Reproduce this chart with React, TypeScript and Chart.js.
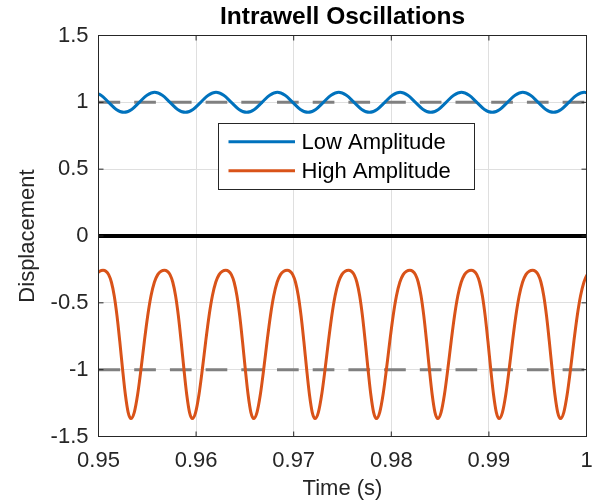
import React, { useEffect, useRef } from "react";
import { Chart, registerables } from "chart.js";

Chart.register(...registerables);

const chartTitle = "Intrawell Oscillations";
const xLabel = "Time (s)";
const yLabel = "Displacement";
const seriesNames = ["Low Amplitude", "High Amplitude"];

const xTicks = [0.95, 0.96, 0.97, 0.98, 0.99, 1.0];
const xTickLabels = ["0.95", "0.96", "0.97", "0.98", "0.99", "1"];
const yTicks = [-1.5, -1, -0.5, 0, 0.5, 1, 1.5];
const yTickLabels = ["-1.5", "-1", "-0.5", "0", "0.5", "1", "1.5"];
const xRange = [0.95, 1.0];
const yRange = [-1.5, 1.5];

const wellCenters = [1, -1];
const baselineValue = 0;

const lowTime = [
  0.949467, 0.950253, 0.951039, 0.951825, 0.95261, 0.953396, 0.954182, 0.954968,
  0.955754, 0.95654, 0.957326, 0.958111, 0.958897, 0.959683, 0.960469, 0.961255,
  0.962041, 0.962827, 0.963613, 0.964398, 0.965184, 0.96597, 0.966756, 0.967542,
  0.968328, 0.969114, 0.9699, 0.970685, 0.971471, 0.972257, 0.973043, 0.973829,
  0.974615, 0.975401, 0.976187, 0.976972, 0.977758, 0.978544, 0.97933, 0.980116,
  0.980902, 0.981688, 0.982474, 0.983259, 0.984045, 0.984831, 0.985617, 0.986403,
  0.987189, 0.987975, 0.988761, 0.989546, 0.990332, 0.991118, 0.991904, 0.99269,
  0.993476, 0.994262, 0.995048, 0.995833, 0.996619, 0.997405, 0.998191, 0.998977,
  0.999763, 1.000549,
];
const lowDisp = [
  1.075, 1.053, 1.0, 0.947, 0.925, 0.947, 1.0, 1.053,
  1.075, 1.053, 1.0, 0.947, 0.925, 0.947, 1.0, 1.053,
  1.075, 1.053, 1.0, 0.947, 0.925, 0.947, 1.0, 1.053,
  1.075, 1.053, 1.0, 0.947, 0.925, 0.947, 1.0, 1.053,
  1.075, 1.053, 1.0, 0.947, 0.925, 0.947, 1.0, 1.053,
  1.075, 1.053, 1.0, 0.947, 0.925, 0.947, 1.0, 1.053,
  1.075, 1.053, 1.0, 0.947, 0.925, 0.947, 1.0, 1.053,
  1.075, 1.053, 1.0, 0.947, 0.925, 0.947, 1.0, 1.053,
  1.075, 1.053,
];

const highTime = [
  0.949438, 0.949782, 0.950125, 0.950468, 0.950754, 0.951039, 0.951325, 0.95161,
  0.951896, 0.952181, 0.952467, 0.952752, 0.953038,
  0.953323, 0.953666, 0.954009, 0.954353, 0.954696, 0.955039, 0.955382, 0.955725, 0.956069, 0.956412,
  0.956755, 0.957041, 0.957326, 0.957612, 0.957897, 0.958183, 0.958468, 0.958754, 0.959039, 0.959325,
  0.95961, 0.959953, 0.960296, 0.96064, 0.960983, 0.961326, 0.961669, 0.962012, 0.962356, 0.962699,
  0.963042, 0.963328, 0.963613, 0.963899, 0.964184, 0.96447, 0.964755, 0.965041, 0.965326, 0.965612,
  0.965897, 0.96624, 0.966583, 0.966927, 0.96727, 0.967613, 0.967956, 0.968299, 0.968643, 0.968986,
  0.969329, 0.969615, 0.9699, 0.970186, 0.970471, 0.970757, 0.971042, 0.971328, 0.971613, 0.971899,
  0.972184, 0.972527, 0.97287, 0.973214, 0.973557, 0.9739, 0.974243, 0.974586, 0.97493, 0.975273,
  0.975616, 0.975902, 0.976187, 0.976473, 0.976758, 0.977044, 0.977329, 0.977615, 0.9779, 0.978186,
  0.978471, 0.978814, 0.979157, 0.979501, 0.979844, 0.980187, 0.98053, 0.980873, 0.981217, 0.98156,
  0.981903, 0.982189, 0.982474, 0.98276, 0.983045, 0.983331, 0.983616, 0.983902, 0.984187, 0.984473,
  0.984758, 0.985101, 0.985444, 0.985788, 0.986131, 0.986474, 0.986817, 0.98716, 0.987504, 0.987847,
  0.98819, 0.988476, 0.988761, 0.989047, 0.989332, 0.989618, 0.989903, 0.990189, 0.990474, 0.99076,
  0.991045, 0.991388, 0.991731, 0.992075, 0.992418, 0.992761, 0.993104, 0.993447, 0.993791, 0.994134,
  0.994477, 0.994763, 0.995048, 0.995334, 0.995619, 0.995905, 0.99619, 0.996476, 0.996761, 0.997047,
  0.997332, 0.997675, 0.998018, 0.998362, 0.998705, 0.999048, 0.999391, 0.999734, 1.000078, 1.000421,
];
const highDisp = [
  -0.346, -0.289, -0.264, -0.257, -0.264, -0.289, -0.346, -0.447,
  -0.598, -0.789, -0.997, -1.186, -1.319,
  -1.366, -1.319, -1.186, -0.997, -0.789, -0.598, -0.447, -0.346, -0.289, -0.264,
  -0.257, -0.264, -0.289, -0.346, -0.447, -0.598, -0.789, -0.997, -1.186, -1.319,
  -1.366, -1.319, -1.186, -0.997, -0.789, -0.598, -0.447, -0.346, -0.289, -0.264,
  -0.257, -0.264, -0.289, -0.346, -0.447, -0.598, -0.789, -0.997, -1.186, -1.319,
  -1.366, -1.319, -1.186, -0.997, -0.789, -0.598, -0.447, -0.346, -0.289, -0.264,
  -0.257, -0.264, -0.289, -0.346, -0.447, -0.598, -0.789, -0.997, -1.186, -1.319,
  -1.366, -1.319, -1.186, -0.997, -0.789, -0.598, -0.447, -0.346, -0.289, -0.264,
  -0.257, -0.264, -0.289, -0.346, -0.447, -0.598, -0.789, -0.997, -1.186, -1.319,
  -1.366, -1.319, -1.186, -0.997, -0.789, -0.598, -0.447, -0.346, -0.289, -0.264,
  -0.257, -0.264, -0.289, -0.346, -0.447, -0.598, -0.789, -0.997, -1.186, -1.319,
  -1.366, -1.319, -1.186, -0.997, -0.789, -0.598, -0.447, -0.346, -0.289, -0.264,
  -0.257, -0.264, -0.289, -0.346, -0.447, -0.598, -0.789, -0.997, -1.186, -1.319,
  -1.366, -1.319, -1.186, -0.997, -0.789, -0.598, -0.447, -0.346, -0.289, -0.264,
  -0.257, -0.264, -0.289, -0.346, -0.447, -0.598, -0.789, -0.997, -1.186, -1.319,
  -1.366, -1.319, -1.186, -0.997, -0.789, -0.598, -0.447, -0.346, -0.289, -0.264,
];

const FONT = "'Liberation Sans', Arial, Helvetica, sans-serif";
const AXIS_COLOR = "#262626";

const boxPlugin = {
  id: "matlabBox",
  afterDatasetsDraw(chart: any) {
    const { ctx, chartArea, scales } = chart;
    const { left, right, top, bottom } = chartArea;
    const xs = scales.x;
    const ys = scales.y;
    ctx.save();
    ctx.strokeStyle = AXIS_COLOR;
    ctx.lineWidth = 1;
    const tl = 5;
    ctx.beginPath();
    xTicks.forEach((v) => {
      const px = xs.getPixelForValue(v);
      ctx.moveTo(px, bottom);
      ctx.lineTo(px, bottom - tl);
      ctx.moveTo(px, top);
      ctx.lineTo(px, top + tl);
    });
    yTicks.forEach((v) => {
      const py = ys.getPixelForValue(v);
      ctx.moveTo(left, py);
      ctx.lineTo(left + tl, py);
      ctx.moveTo(right, py);
      ctx.lineTo(right - tl, py);
    });
    ctx.stroke();
    ctx.strokeRect(left, top, right - left, bottom - top);

    // title centred over the axes
    ctx.fillStyle = "#000000";
    ctx.font = `bold 24.5px ${FONT}`;
    ctx.textAlign = "center";
    ctx.textBaseline = "middle";
    ctx.fillText(chartTitle, (left + right) / 2, top - 18);

    // legend
    const lx = left + 120;
    const ly = top + 88;
    const lw = 256;
    const lh = 66;
    ctx.fillStyle = "#ffffff";
    ctx.fillRect(lx, ly, lw, lh);
    ctx.strokeStyle = AXIS_COLOR;
    ctx.lineWidth = 1;
    ctx.strokeRect(lx, ly, lw, lh);
    const ds = chart.data.datasets;
    [0, 1].forEach((i) => {
      const yy = ly + 18.2 + i * 29;
      ctx.strokeStyle = ds[i].borderColor;
      ctx.lineWidth = 3;
      ctx.beginPath();
      ctx.moveTo(lx + 10, yy);
      ctx.lineTo(lx + 76.5, yy);
      ctx.stroke();
      ctx.fillStyle = "#000000";
      ctx.font = `22px ${FONT}`;
      ctx.textAlign = "left";
      ctx.textBaseline = "middle";
      ctx.fillText(ds[i].label, lx + 83, yy + 1);
    });
    ctx.restore();
  },
};

export default function App() {
  const ref = useRef<HTMLCanvasElement>(null);
  useEffect(() => {
    if (!ref.current) return;
    const lowData = lowTime.map((t, i) => ({ x: t, y: lowDisp[i] }));
    const highData = highTime.map((t, i) => ({ x: t, y: highDisp[i] }));
    const flat = (v: number) => [
      { x: xRange[0], y: v },
      { x: xRange[1], y: v },
    ];
    const chart = new Chart(ref.current, {
      type: "line",
      data: {
        datasets: [
          {
            label: seriesNames[0],
            data: lowData,
            borderColor: "#0072BD",
            borderWidth: 3,
            pointRadius: 0,
            cubicInterpolationMode: "monotone",
            fill: false,
          },
          {
            label: seriesNames[1],
            data: highData,
            borderColor: "#D95319",
            borderWidth: 3,
            pointRadius: 0,
            cubicInterpolationMode: "monotone",
            fill: false,
          },
          ...wellCenters.map((c) => ({
            label: "well " + c,
            data: flat(c),
            borderColor: "#808080",
            borderWidth: 3,
            borderDash: [21.7, 14],
            pointRadius: 0,
            fill: false,
          })),
          {
            label: "baseline",
            data: flat(baselineValue),
            borderColor: "#000000",
            borderWidth: 4,
            pointRadius: 0,
            fill: false,
          },
        ],
      },
      options: {
        animation: false,
        responsive: false,
        events: [],
        layout: { padding: { left: 0, right: 10.5, top: 35.5, bottom: 0 } },
        plugins: {
          legend: { display: false },
          tooltip: { enabled: false },
          title: { display: false },
        },
        scales: {
          x: {
            type: "linear",
            min: xRange[0],
            max: xRange[1],
            afterBuildTicks: (s: any) => {
              s.ticks = xTicks.map((v) => ({ value: v }));
            },
            afterFit: (s: any) => {
              s.height = 66.5;
              s.paddingLeft = 0;
              s.paddingRight = 0;
            },
            ticks: {
              autoSkip: false,
              maxRotation: 0,
              color: AXIS_COLOR,
              padding: 11,
              font: { family: FONT, size: 22 },
              callback: (v: any, i: number) => xTickLabels[i],
            },
            grid: { color: "#dfdfdf", lineWidth: 1, drawTicks: false, tickLength: 0 },
            border: { display: false },
            title: {
              display: true,
              text: xLabel,
              color: AXIS_COLOR,
              font: { family: FONT, size: 22 },
              padding: { top: 0, bottom: 1 },
            },
          },
          y: {
            type: "linear",
            min: yRange[0],
            max: yRange[1],
            afterBuildTicks: (s: any) => {
              s.ticks = yTicks.map((v) => ({ value: v }));
            },
            afterFit: (s: any) => {
              s.width = 98.5;
              s.paddingTop = 0;
              s.paddingBottom = 0;
            },
            ticks: {
              autoSkip: false,
              color: AXIS_COLOR,
              padding: 10,
              font: { family: FONT, size: 22 },
              callback: (v: any, i: number) => yTickLabels[i],
            },
            grid: { color: "#dfdfdf", lineWidth: 1, drawTicks: false, tickLength: 0 },
            border: { display: false },
            title: {
              display: true,
              text: yLabel,
              color: AXIS_COLOR,
              font: { family: FONT, size: 22 },
              padding: { top: 14.3, bottom: 0 },
            },
          },
        },
      },
      plugins: [boxPlugin],
    });
    return () => chart.destroy();
  }, []);
  return (
    <div style={{ position: "absolute", left: 0, top: 0, width: 597, height: 503, background: "#fff" }}>
      <canvas ref={ref} width={597} height={503} style={{ display: "block" }} />
    </div>
  );
}
